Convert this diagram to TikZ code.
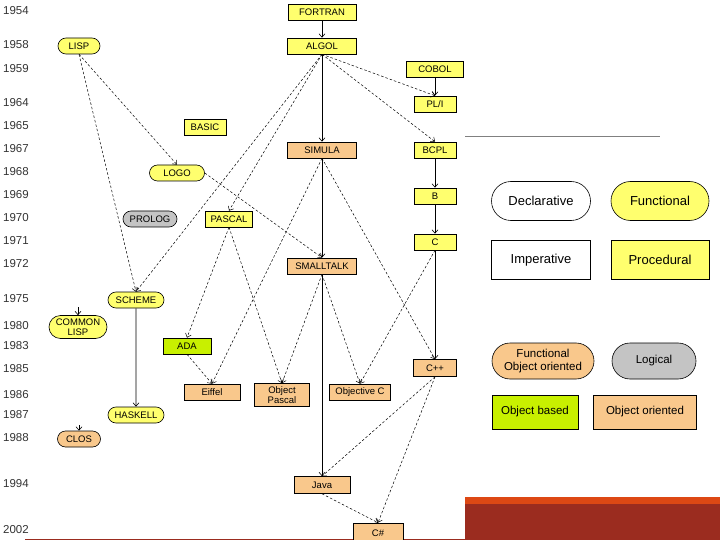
\documentclass[tikz,border=0pt]{standalone}
\usepackage{fontspec}
\setmainfont{Liberation Sans}
\usetikzlibrary{arrows.meta,shapes.misc}
\definecolor{ylw}{HTML}{FFFF6E}
\definecolor{org}{HTML}{F9C88C}
\definecolor{gry}{HTML}{C4C4C4}
\definecolor{grn}{HTML}{C8F000}
\definecolor{barred}{HTML}{9B2C1F}
\definecolor{barorg}{HTML}{DD4814}
\begin{document}
\begin{tikzpicture}[x=1pt,y=-1pt,
  base/.style={draw=black,line width=0.6pt,inner sep=0pt,align=center,font=\fontsize{9.5}{10}\selectfont},
  box/.style={base,rectangle,minimum height=16pt},
  pill/.style={base,rounded rectangle,minimum height=16pt},
  lbox/.style={base,rectangle,font=\fontsize{13}{15}\selectfont},
  lpill/.style={base,rounded rectangle,font=\fontsize{13}{15}\selectfont},
  year/.style={anchor=west,inner sep=0pt,text=black!80,font=\fontsize{11.5}{12}\selectfont},
  conn/.style={line width=0.6pt,-{Straight Barb[length=3.5pt,width=6pt]}},
  dconn/.style={conn,line width=0.5pt,dash pattern=on 2.5pt off 2pt}]
\useasboundingbox (0,0) rectangle (720,540);
% bottom decoration
\fill[barorg] (465,497) rectangle (720,504);
\fill[barred] (465,504) rectangle (720,540);
\draw[barred,line width=1pt] (25,539) -- (465,539);
\draw[gray,line width=0.8pt] (465,136) -- (660,136);
% years
\foreach \yr/\yy in {1954/11,1958/45,1959/69,1964/103,1965/126,1967/149,1968/172,1969/195,1970/218,1971/241,1972/264,1975/299,1980/326,1983/346,1985/369,1986/395,1987/415,1988/438,1994/484,2002/530}
  \node[year] (y\yr) at (3,\yy) {\yr};
% nodes
\node[box,fill=ylw,minimum width=68pt] (fortran) at (322,12) {FORTRAN};
\node[box,fill=ylw,minimum width=69pt] (algol) at (322,46) {ALGOL};
\node[box,fill=ylw,minimum width=57pt] (cobol) at (435,69) {COBOL};
\node[box,fill=ylw,minimum width=42pt] (pli) at (435,104) {PL/I};
\node[box,fill=ylw,minimum width=42pt] (bcpl) at (435,150) {BCPL};
\node[box,fill=ylw,minimum width=42pt] (b) at (435,196) {B};
\node[box,fill=ylw,minimum width=42pt] (c) at (435,242) {C};
\node[box,fill=org,minimum width=69pt] (simula) at (322,150) {SIMULA};
\node[box,fill=org,minimum width=69pt] (smalltalk) at (322,266) {SMALLTALK};
\node[pill,fill=ylw,minimum width=42pt] (lisp) at (79,46) {LISP};
\node[box,fill=ylw,minimum width=42pt] (basic) at (205,127) {BASIC};
\node[pill,fill=ylw,minimum width=55pt] (logo) at (177,173) {LOGO};
\node[pill,fill=gry,minimum width=54pt] (prolog) at (150,219) {PROLOG};
\node[box,fill=ylw,minimum width=47pt] (pascal) at (229,219) {PASCAL};
\node[pill,fill=ylw,minimum width=56pt] (scheme) at (136,300) {SCHEME};
\node[pill,fill=ylw,minimum width=58pt,minimum height=23pt,font=\fontsize{9.5}{9.5}\selectfont] (commonlisp) at (78,327) {COMMON\\LISP};
\node[box,fill=grn,minimum width=48pt] (ada) at (187,346) {ADA};
\node[box,fill=org,minimum width=43pt,minimum height=17pt] (cpp) at (435,368) {C++};
\node[box,fill=org,minimum width=56pt] (eiffel) at (212,392) {Eiffel};
\node[box,fill=org,minimum width=55pt,minimum height=23pt,font=\fontsize{9.5}{10}\selectfont] (objpascal) at (282,395) {Object\\Pascal};
\node[box,fill=org,minimum width=61pt] (objc) at (360,392) {Objective C};
\node[pill,fill=ylw,minimum width=56pt] (haskell) at (136,415) {HASKELL};
\node[pill,fill=org,minimum width=43pt] (clos) at (79,439) {CLOS};
\node[box,fill=org,minimum width=56pt,minimum height=17pt] (java) at (322,485) {Java};
\node[box,fill=org,minimum width=50pt,minimum height=20pt,text depth=0pt] (csharp) at (378,533) {C\#};
% legend
\node[lpill,fill=white,minimum width=99pt,minimum height=39pt] (decl) at (541,201) {Declarative};
\node[lpill,fill=ylw,minimum width=98pt,minimum height=39pt] (func) at (660,201) {Functional};
\node[lbox,fill=white,minimum width=99pt,minimum height=39pt] (imp) at (541,260) {Imperative};
\node[lbox,fill=ylw,minimum width=98pt,minimum height=39pt] (proc) at (660,260) {Procedural};
\node[lpill,fill=org,minimum width=102pt,minimum height=36pt,font=\fontsize{11.5}{13}\selectfont] (foo) at (543,361) {Functional\\Object oriented};
\node[lpill,fill=gry,minimum width=84pt,minimum height=36pt,font=\fontsize{11.5}{13}\selectfont] (logical) at (654,361) {Logical};
\node[lbox,fill=grn,minimum width=86pt,minimum height=34pt,font=\fontsize{11.5}{13}\selectfont] (objbased) at (535,412) {Object based};
\node[lbox,fill=org,minimum width=103pt,minimum height=34pt,font=\fontsize{11.5}{13}\selectfont] (oo) at (645,412) {Object oriented};
% stub coordinates
\coordinate (clstub) at (78,307);
\coordinate (closstub) at (79,425);
% solid connectors
\draw[conn] (fortran) -- (algol);
\draw[conn] (algol) -- (simula);
\draw[conn] (cobol) -- (pli);
\draw[conn] (bcpl) -- (b);
\draw[conn] (b) -- (c);
\draw[conn] (c) -- (cpp);
\draw[conn] (simula) -- (smalltalk);
\draw[conn] (smalltalk) -- (java);
\draw[conn] (scheme) -- (haskell);
\draw[conn] (clstub) -- (commonlisp.north);
\draw[conn] (closstub) -- (clos.north);
% dashed connectors
\draw[dconn] (algol.south) -- (pli.north);
\draw[dconn] (algol.south) -- (bcpl.north);
\draw[dconn] (algol.south) -- (pascal.north);
\draw[dconn] (algol.south) -- (scheme.north);
\draw[dconn] (lisp.south) -- (logo.north);
\draw[dconn] (lisp.south) -- (scheme.north);
\draw[dconn] (logo.east) -- (smalltalk.north);
\draw[dconn] (simula.south) -- (eiffel.north);
\draw[dconn] (simula.south) -- (cpp.north);
\draw[dconn] (pascal.south) -- (ada.north);
\draw[dconn] (pascal.south) -- (objpascal.north);
\draw[dconn] (ada.south) -- (eiffel.north);
\draw[dconn] (smalltalk.south) -- (objpascal.north);
\draw[dconn] (smalltalk.south) -- (objc.north);
\draw[dconn] (c.south) -- (objc.north);
\draw[dconn] (cpp.south) -- (java.north);
\draw[dconn] (cpp.south) -- (csharp.north);
\draw[dconn] (java.south) -- (csharp.north);
\end{tikzpicture}
\end{document}
